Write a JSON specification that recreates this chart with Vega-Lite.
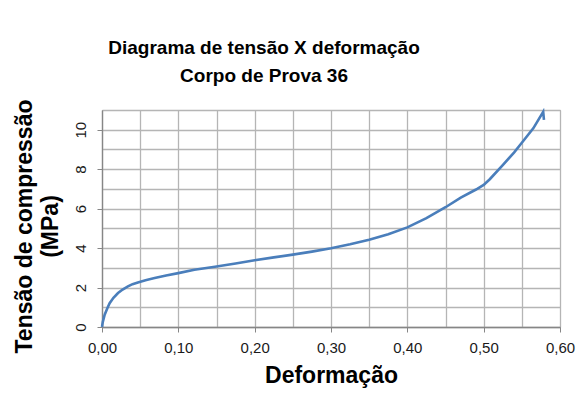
{
  "$schema": "https://vega.github.io/schema/vega-lite/v6.json",
  "width": 458,
  "height": 217,
  "autosize": "none",
  "padding": {"left": 102, "top": 110, "right": 24, "bottom": 67},
  "background": "white",
  "title": {
    "text": ["Diagrama de tensão X deformação", "Corpo de Prova 36"],
    "font": "Liberation Sans",
    "fontSize": 19,
    "fontWeight": "bold",
    "color": "#000000",
    "lineHeight": 28,
    "anchor": "middle",
    "frame": "group",
    "dx": -67,
    "offset": 13
  },
  "config": {
    "font": "Liberation Sans",
    "view": {"stroke": "#a6a6a6", "strokeWidth": 1}
  },
  "data": {
    "values": [
      {"i": 0, "d": 0, "t": 0},
      {"i": 1, "d": 0.001, "t": 0.25},
      {"i": 2, "d": 0.0035, "t": 0.62},
      {"i": 3, "d": 0.007, "t": 0.95},
      {"i": 4, "d": 0.010, "t": 1.21},
      {"i": 5, "d": 0.015, "t": 1.48},
      {"i": 6, "d": 0.021, "t": 1.72},
      {"i": 7, "d": 0.027, "t": 1.90},
      {"i": 8, "d": 0.034, "t": 2.06},
      {"i": 9, "d": 0.040, "t": 2.17},
      {"i": 10, "d": 0.047, "t": 2.26},
      {"i": 11, "d": 0.057, "t": 2.37},
      {"i": 12, "d": 0.069, "t": 2.48},
      {"i": 13, "d": 0.084, "t": 2.61},
      {"i": 14, "d": 0.100, "t": 2.73},
      {"i": 15, "d": 0.121, "t": 2.90},
      {"i": 16, "d": 0.148, "t": 3.05},
      {"i": 17, "d": 0.175, "t": 3.22},
      {"i": 18, "d": 0.200, "t": 3.38},
      {"i": 19, "d": 0.225, "t": 3.53},
      {"i": 20, "d": 0.250, "t": 3.67},
      {"i": 21, "d": 0.275, "t": 3.82},
      {"i": 22, "d": 0.300, "t": 3.99},
      {"i": 23, "d": 0.325, "t": 4.19},
      {"i": 24, "d": 0.350, "t": 4.42},
      {"i": 25, "d": 0.375, "t": 4.70},
      {"i": 26, "d": 0.400, "t": 5.05},
      {"i": 27, "d": 0.425, "t": 5.52},
      {"i": 28, "d": 0.450, "t": 6.07},
      {"i": 29, "d": 0.470, "t": 6.56},
      {"i": 30, "d": 0.490, "t": 6.97},
      {"i": 31, "d": 0.500, "t": 7.20},
      {"i": 32, "d": 0.508, "t": 7.49},
      {"i": 33, "d": 0.525, "t": 8.21},
      {"i": 34, "d": 0.540, "t": 8.85},
      {"i": 35, "d": 0.550, "t": 9.34},
      {"i": 36, "d": 0.565, "t": 10.07},
      {"i": 37, "d": 0.578, "t": 10.91},
      {"i": 38, "d": 0.579, "t": 10.5}
    ]
  },
  "mark": {"type": "line", "color": "#4a7ebb", "strokeWidth": 2.6, "clip": false},
  "encoding": {
    "x": {
      "field": "d",
      "type": "quantitative",
      "scale": {"domain": [0, 0.6], "nice": false, "zero": false},
      "axis": {
        "values": [0, 0.05, 0.1, 0.15, 0.2, 0.25, 0.3, 0.35, 0.4, 0.45, 0.5, 0.55, 0.6],
        "title": "Deformação",
        "titleFont": "Liberation Sans",
        "titleFontSize": 23,
        "titleFontWeight": "bold",
        "titleColor": "#000000",
        "titlePadding": 9,
        "labelFont": "Liberation Sans",
        "labelFontSize": 15,
        "labelColor": "#1a1a1a",
        "labelPadding": 8,
        "labelFlush": false,
        "labelOverlap": false,
        "labelExpr": "round(datum.value*100) % 10 == 0 ? replace(format(datum.value, '.2f'), '.', ',') : ''",
        "tickSize": 5,
        "tickColor": "#868686",
        "tickOpacity": {"condition": {"test": "round(datum.value*100) % 10 == 0", "value": 1}, "value": 0},
        "domainColor": "#868686",
        "domainWidth": 1.3,
        "grid": true,
        "gridColor": "#b5b5b5",
        "gridWidth": 1.3
      }
    },
    "y": {
      "field": "t",
      "type": "quantitative",
      "scale": {"domain": [0, 11], "nice": false, "zero": true},
      "axis": {
        "values": [0, 1, 2, 3, 4, 5, 6, 7, 8, 9, 10, 11],
        "title": ["Tensão de compressão", "(MPa)"],
        "titleFont": "Liberation Sans",
        "titleFontSize": 23,
        "titleFontWeight": "bold",
        "titleColor": "#000000",
        "titleLineHeight": 26,
        "titlePadding": 11,
        "titleY": 116,
        "labelFont": "Liberation Sans",
        "labelFontSize": 15,
        "labelColor": "#1a1a1a",
        "labelAngle": -90,
        "labelPadding": 9,
        "labelOverlap": false,
        "labelExpr": "datum.value % 2 == 0 ? datum.label : ''",
        "tickSize": 5,
        "tickColor": "#868686",
        "tickOpacity": {"condition": {"test": "datum.value % 2 == 0", "value": 1}, "value": 0},
        "domainColor": "#868686",
        "domainWidth": 1.3,
        "grid": true,
        "gridColor": "#b5b5b5",
        "gridWidth": 1.3
      }
    },
    "order": {"field": "i", "type": "quantitative"}
  }
}
